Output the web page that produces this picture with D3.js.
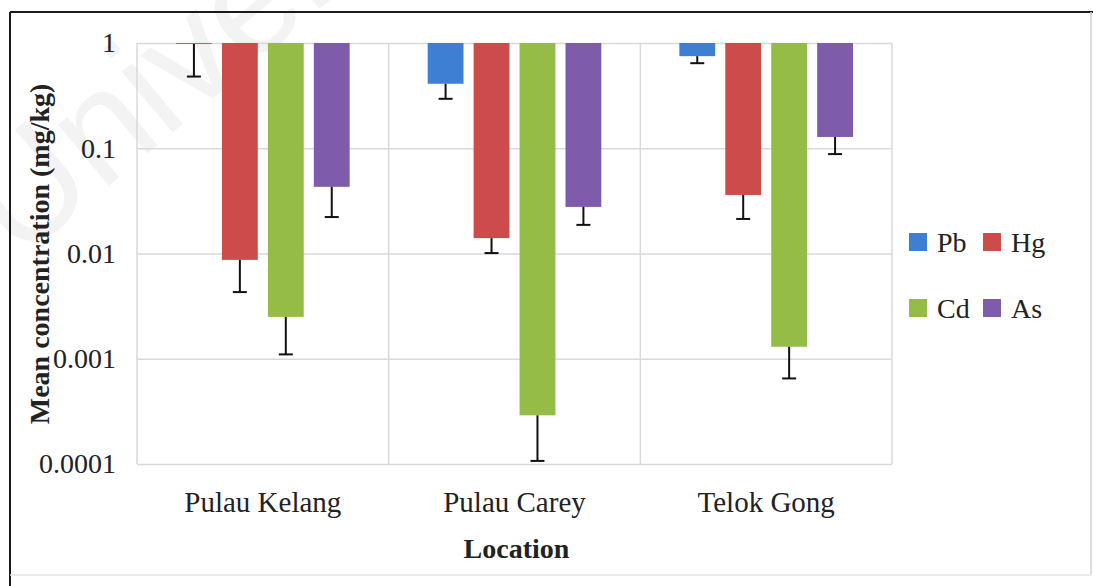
<!DOCTYPE html>
<html>
<head>
<meta charset="utf-8">
<script src="https://cdn.jsdelivr.net/npm/d3@7"></script>
<style>
body { margin: 0; background: #fff; }
svg { display: block; }
svg text { font-family: "Liberation Serif", "Times New Roman", serif; }
</style>
</head>
<body>
<div id="chart"></div>
<script>
// Mean metal concentrations (mg/kg) by location, log scale, bars hang from 1

var locations = ["Pulau Kelang", "Pulau Carey", "Telok Gong"];
var metals = ["Pb", "Hg", "Cd", "As"];
var colors = ["#3f7fd3", "#cd4b4a", "#95bc47", "#7e5cab"];

var pbMean = [0.98, 0.41, 0.75];
var pbSd   = [0.50, 0.115, 0.107];
var hgMean = [0.0087, 0.0140, 0.036];
var hgSd   = [0.0044, 0.0039, 0.0147];
var cdMean = [0.0025, 0.00029, 0.0013];
var cdSd   = [0.0014, 0.000183, 0.00065];
var asMean = [0.043, 0.0277, 0.128];
var asSd   = [0.0208, 0.009, 0.040];

var yTicks = [0.0001, 0.001, 0.01, 0.1, 1];
var yTickLabels = ["0.0001", "0.001", "0.01", "0.1", "1"];

var means = [pbMean, hgMean, cdMean, asMean];
var sds = [pbSd, hgSd, cdSd, asSd];

var W = 1093, H = 586;
var plot = {left: 137, right: 892, top: 43, bottom: 464};
var serif = "'Liberation Serif', 'Times New Roman', serif";

var svg = d3.select("#chart").append("svg")
    .attr("width", W)
    .attr("height", H);

// faint watermark behind everything
svg.append("text")
    .attr("transform", "translate(18,262) rotate(-40)")
    .style("font-family", "'Liberation Sans', Arial, sans-serif")
    .attr("font-size", 150)
    .attr("fill", "#f3f3f3")
    .text("Universiti Malaya");

// outer frame
svg.append("line").attr("x1", 10).attr("x2", 1093).attr("y1", 12).attr("y2", 12)
    .attr("stroke", "#1a1a1a").attr("stroke-width", 2);
svg.append("line").attr("x1", 10).attr("x2", 10).attr("y1", 12).attr("y2", 586)
    .attr("stroke", "#1a1a1a").attr("stroke-width", 2);
svg.append("line").attr("x1", 1091).attr("x2", 1091).attr("y1", 12).attr("y2", 575)
    .attr("stroke", "#d0d0d0").attr("stroke-width", 1.5);
svg.append("line").attr("x1", 10).attr("x2", 1091).attr("y1", 575).attr("y2", 575)
    .attr("stroke", "#e4e4e4").attr("stroke-width", 1.5);

var y = d3.scaleLog()
    .domain([0.0001, 1])
    .range([plot.bottom, plot.top]);

var x0 = d3.scaleBand()
    .domain(locations)
    .range([plot.left, plot.right])
    .paddingInner(0.31)
    .paddingOuter(0.155);

var x1 = d3.scaleBand()
    .domain(metals)
    .range([0, x0.bandwidth()])
    .paddingInner(0.22)
    .paddingOuter(0);

// horizontal gridlines + tick labels
var yAxis = svg.append("g")
    .attr("transform", "translate(" + plot.left + ",0)")
    .call(d3.axisLeft(y)
	  .tickValues(yTicks)
	  .tickFormat(function(d, i){ return yTickLabels[i]; })
	  .tickSize(-(plot.right - plot.left))
	  .tickPadding(21));
yAxis.select(".domain").remove();
yAxis.selectAll(".tick line")
    .attr("stroke", "#d9d9d9")
    .attr("stroke-width", 1.5);
yAxis.selectAll(".tick text")
    .style("font-family", serif)
    .attr("font-size", 28)
    .attr("fill", "#222");

// vertical gridlines at category boundaries
var bounds = d3.range(locations.length + 1).map(function(i){
    return plot.left + i * x0.step();
});
svg.append("g").selectAll("line")
    .data(bounds)
    .enter().append("line")
    .attr("x1", function(d){ return d; })
    .attr("x2", function(d){ return d; })
    .attr("y1", plot.top)
    .attr("y2", plot.bottom)
    .attr("stroke", "#d9d9d9")
    .attr("stroke-width", 1.5);

// bars
var rows = [];
locations.forEach(function(loc, li){
    metals.forEach(function(m, mi){
	rows.push({loc: loc, metal: m, mean: means[mi][li], sd: sds[mi][li], color: colors[mi]});
    });
});

var bars = svg.append("g");
bars.selectAll("rect")
    .data(rows)
    .enter().append("rect")
    .attr("x", function(d){ return x0(d.loc) + x1(d.metal); })
    .attr("width", x1.bandwidth())
    .attr("y", y(1))
    .attr("height", function(d){ return y(d.mean) - y(1); })
    .attr("fill", function(d){ return d.color; });

// error bars (downwards, mean - sd)
var err = svg.append("g").attr("stroke", "#111").attr("stroke-width", 2);
rows.forEach(function(d){
    var cx = x0(d.loc) + x1(d.metal) + x1.bandwidth() / 2;
    var lo = d.mean - d.sd;
    err.append("line")
	.attr("x1", cx).attr("x2", cx)
	.attr("y1", y(d.mean)).attr("y2", y(lo));
    err.append("line")
	.attr("x1", cx - 7).attr("x2", cx + 7)
	.attr("y1", y(lo)).attr("y2", y(lo));
});

// category axis
var xAxis = svg.append("g")
    .attr("transform", "translate(0," + plot.bottom + ")")
    .call(d3.axisBottom(x0).tickSize(0).tickPadding(27));
xAxis.select(".domain").remove();
xAxis.selectAll(".tick text")
    .style("font-family", serif)
    .attr("font-size", 29)
    .attr("fill", "#222");

// axis titles
svg.append("text")
    .attr("x", (plot.left + plot.right) / 2 + 2)
    .attr("y", 558)
    .attr("text-anchor", "middle")
    .style("font-family", serif)
    .attr("font-size", 28)
    .attr("font-weight", "bold")
    .attr("fill", "#222")
    .text("Location");

svg.append("text")
    .attr("transform", "translate(49,254) rotate(-90)")
    .attr("text-anchor", "middle")
    .style("font-family", serif)
    .attr("font-size", 28)
    .attr("font-weight", "bold")
    .attr("fill", "#222")
    .text("Mean concentration (mg/kg)");

// legend, 2 x 2
var legend = svg.append("g");
var legX = [909, 983], legY = [242, 308];
metals.forEach(function(m, i){
    var gx = legX[i % 2], gy = legY[Math.floor(i / 2)];
    legend.append("rect")
	.attr("x", gx).attr("y", gy - 9)
	.attr("width", 18).attr("height", 18)
	.attr("fill", colors[i]);
    legend.append("text")
	.attr("x", gx + 28).attr("y", gy + 10)
	.style("font-family", serif)
	.attr("font-size", 28)
	.attr("fill", "#222")
	.text(m);
});
</script>
</body>
</html>
